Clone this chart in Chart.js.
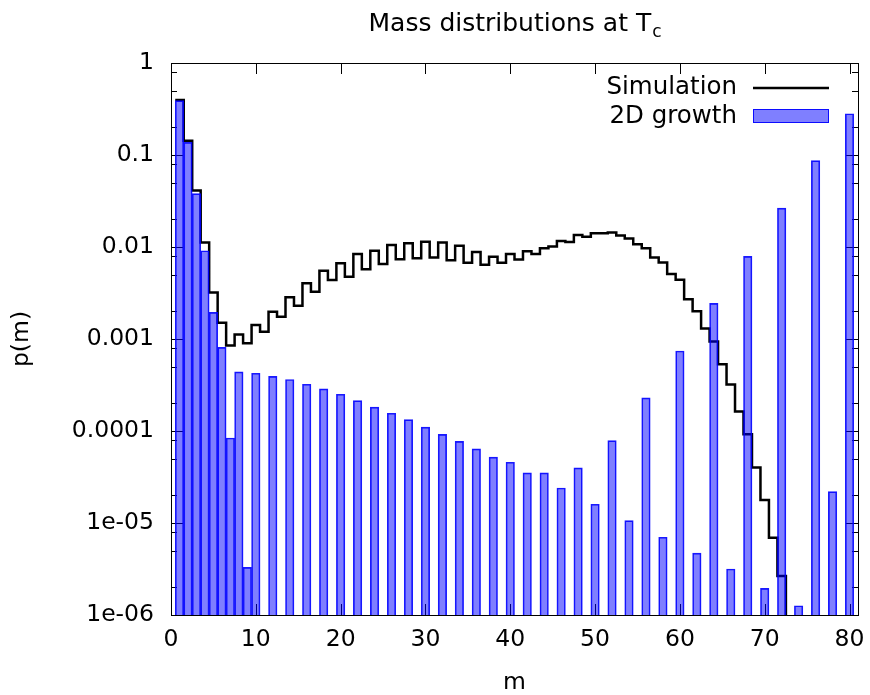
<!DOCTYPE html>
<html>
<head>
<meta charset="utf-8">
<title>Mass distributions at Tc</title>
<script src="https://cdn.jsdelivr.net/npm/chart.js@4.4.1/dist/chart.umd.min.js"></script>
<style>
  html, body { margin: 0; padding: 0; background: #fff; }
  canvas { display: block; }
</style>
</head>
<body>
<canvas id="massChart" width="870" height="695"></canvas>
<script>
// simulation histogram (bins m = 1..72)
const simM = [1, 2, 3, 4, 5, 6, 7, 8, 9, 10, 11, 12, 13, 14, 15, 16, 17, 18, 19, 20,
              21, 22, 23, 24, 25, 26, 27, 28, 29, 30, 31, 32, 33, 34, 35, 36, 37, 38, 39, 40,
              41, 42, 43, 44, 45, 46, 47, 48, 49, 50, 51, 52, 53, 54, 55, 56, 57, 58, 59, 60,
              61, 62, 63, 64, 65, 66, 67, 68, 69, 70, 71, 72];
const simP = [0.396, 0.143, 0.041, 0.0112, 0.0032, 0.0015, 0.00085, 0.00112, 0.0009, 0.00142,
              0.0012, 0.00198, 0.00175, 0.00284, 0.0023, 0.00403, 0.00327, 0.00552, 0.00438, 0.00665,
              0.00476, 0.0084, 0.00573, 0.0091, 0.00653, 0.0105, 0.00735, 0.011, 0.00754, 0.0114,
              0.0077, 0.0112, 0.0072, 0.0103, 0.00675, 0.0088, 0.0064, 0.00785, 0.00675, 0.0084,
              0.0073, 0.009, 0.0084, 0.0097, 0.0101, 0.0116, 0.0113, 0.0135, 0.0129, 0.0141,
              0.0141, 0.0144, 0.0133, 0.0124, 0.0107, 0.0097, 0.0077, 0.0068, 0.0051, 0.0044,
              0.0027, 0.002, 0.0013, 0.00094, 0.00053, 0.00032, 0.000163, 0.000092, 0.00004, 0.0000178,
              0.0000069, 0.00000265];

// 2D growth model
const growthM = [1, 2, 3, 4, 5, 6, 7, 8, 9, 10, 12, 14, 16, 18, 20, 22, 24, 26, 28, 30,
                 32, 34, 36, 38, 40, 42, 44, 46, 48, 50, 52, 54, 56, 58, 60, 62, 64, 66, 68, 70,
                 72, 74, 76, 78, 80];
const growthP = [0.39, 0.137, 0.038, 0.0091, 0.00195, 0.00081, 0.000084, 0.00044, 0.0000033, 0.000424,
                 0.000393, 0.000363, 0.000322, 0.000287, 0.000251, 0.000214, 0.000182, 0.000156, 0.000133, 0.00011,
                 0.000092, 0.000077, 0.000064, 0.000052, 0.0000457, 0.000035, 0.000035, 0.000024, 0.0000397, 0.000016,
                 0.0000785, 0.0000106, 0.000229, 0.000007, 0.00074, 0.0000047, 0.00244, 0.00000316, 0.0079, 0.00000195,
                 0.0265, 0.00000126, 0.0867, 0.0000219, 0.281];

const xTicks = [0, 10, 20, 30, 40, 50, 60, 70, 80];
const yTicks = [1e-6, 1e-5, 1e-4, 1e-3, 1e-2, 1e-1, 1];
const yTickLabels = ['1e-06', '1e-05', '0.0001', '0.001', '0.01', '0.1', '1'];

const FONT = '"DejaVu Sans", sans-serif';

// histeps: start half a bin left of the first bin, drop out of the plot after the last one
const simSteps = simM.map((m, i) => ({x: m, y: simP[i]}));
simSteps.unshift({x: simM[0] - 0.5, y: simP[0]});
simSteps.push({x: simM[simM.length - 1] + 1, y: yTicks[0] / 100});

const frame = {
    id: 'frame',
    beforeDatasetsDraw(chart) {
        const {ctx, chartArea: a, scales: {x, y}} = chart;
        ctx.save();
        ctx.strokeStyle = '#000';
        ctx.lineWidth = 1;
        ctx.beginPath();
        xTicks.forEach(v => {
            const px = Math.round(x.getPixelForValue(v)) + 0.5;
            ctx.moveTo(px, a.bottom); ctx.lineTo(px, a.bottom - 11);
            ctx.moveTo(px, a.top); ctx.lineTo(px, a.top + 11);
        });
        yTicks.forEach(v => {
            const py = Math.round(y.getPixelForValue(v)) + 0.5;
            ctx.moveTo(a.left, py); ctx.lineTo(a.left + 12, py);
            ctx.moveTo(a.right, py); ctx.lineTo(a.right - 12, py);
            if (v < 1) {
                [2, 5, 8].forEach(k => {
                    const pm = Math.round(y.getPixelForValue(v * k)) + 0.5;
                    ctx.moveTo(a.left, pm); ctx.lineTo(a.left + 6, pm);
                    ctx.moveTo(a.right, pm); ctx.lineTo(a.right - 6, pm);
                });
            }
        });
        ctx.stroke();
        ctx.strokeRect(Math.round(a.left) + 0.5, Math.round(a.top) + 0.5,
                       Math.round(a.right - a.left), Math.round(a.bottom - a.top));
        ctx.restore();
    },
    afterDraw(chart) {
        const {ctx, chartArea: a} = chart;
        ctx.save();
        ctx.fillStyle = '#000';
        // title with subscript
        const main = 'Mass distributions at T', sub = 'c';
        ctx.font = '25px ' + FONT;
        const wMain = ctx.measureText(main).width;
        ctx.font = '17px ' + FONT;
        const wSub = ctx.measureText(sub).width;
        const x0 = (a.left + a.right) / 2 - (wMain + wSub) / 2;
        ctx.textAlign = 'left';
        ctx.textBaseline = 'alphabetic';
        ctx.font = '25px ' + FONT;
        ctx.fillText(main, x0, 31);
        ctx.font = '17px ' + FONT;
        ctx.fillText(sub, x0 + wMain + 1, 37);

        // legend, gnuplot style (text right, sample left)
        const ds = chart.data.datasets;
        ctx.font = '24.5px ' + FONT;
        ctx.textAlign = 'right';
        ctx.textBaseline = 'middle';
        ctx.fillText(ds[0].label, 737, 88);
        ctx.fillText(ds[1].label, 737, 117);
        ctx.strokeStyle = ds[0].borderColor;
        ctx.lineWidth = ds[0].borderWidth;
        ctx.beginPath();
        ctx.moveTo(753, 88); ctx.lineTo(829, 88);
        ctx.stroke();
        ctx.fillStyle = ds[1].backgroundColor;
        ctx.fillRect(753, 109, 76, 14);
        ctx.strokeStyle = ds[1].borderColor;
        ctx.lineWidth = 1;
        ctx.strokeRect(753.5, 109.5, 75, 13);
        ctx.restore();
    }
};

// one bin (dm = 1) wide bars
const binWidth = c => {
    const x = c.chart.scales.x;
    return x ? x.getPixelForValue(1) - x.getPixelForValue(0) : 8;
};

const ctx = document.getElementById('massChart').getContext('2d');
new Chart(ctx, {
    type: 'bar',
    data: {
        datasets: [{
            type: 'line',
            label: 'Simulation',
            data: simSteps,
            stepped: 'middle',
            borderColor: '#000',
            borderWidth: 2.5,
            pointRadius: 0,
            fill: false,
            order: 1
        }, {
            type: 'bar',
            label: '2D growth',
            data: growthM.map((m, i) => ({x: m, y: growthP[i]})),
            backgroundColor: 'rgba(0, 0, 255, 0.5)',
            borderColor: 'rgba(0, 0, 255, 0.9)',
            borderWidth: 1,
            barThickness: binWidth,
            order: 0
        }]
    },
    options: {
        responsive: false,
        devicePixelRatio: 1,
        animation: false,
        layout: {
            padding: {top: 63, right: 12, left: 0, bottom: 0}
        },
        plugins: {
            legend: {display: false},
            title: {display: false},
            tooltip: {enabled: false}
        },
        scales: {
            x: {
                type: 'linear',
                min: 0,
                max: 81,
                offset: false,
                grid: {display: false, drawTicks: false, offset: false},
                border: {display: false},
                afterBuildTicks: scale => { scale.ticks = xTicks.map(v => ({value: v})); },
                afterFit: scale => {
                    scale.height = 80;
                    scale.paddingLeft = 0;
                    scale.paddingRight = 0;
                },
                ticks: {
                    color: '#000',
                    padding: 11,
                    maxRotation: 0,
                    font: {family: FONT, size: 23.5},
                    callback: v => String(v)
                },
                title: {
                    display: true,
                    text: 'm',
                    color: '#000',
                    font: {family: FONT, size: 23.5, lineHeight: 1},
                    padding: {top: 0, bottom: 0}
                }
            },
            y: {
                type: 'logarithmic',
                min: 1e-6,
                max: 1,
                grid: {display: false, drawTicks: false},
                border: {display: false},
                afterBuildTicks: scale => { scale.ticks = yTicks.map(v => ({value: v})); },
                afterFit: scale => { scale.width = 171; },
                ticks: {
                    color: '#000',
                    padding: 17,
                    font: {family: FONT, size: 23.5},
                    callback: v => yTickLabels[yTicks.indexOf(v)]
                },
                title: {
                    display: true,
                    text: 'p(m)',
                    color: '#000',
                    font: {family: FONT, size: 23.5, lineHeight: 1},
                    padding: {top: 10, bottom: 0}
                }
            }
        }
    },
    plugins: [frame]
});
</script>
</body>
</html>
